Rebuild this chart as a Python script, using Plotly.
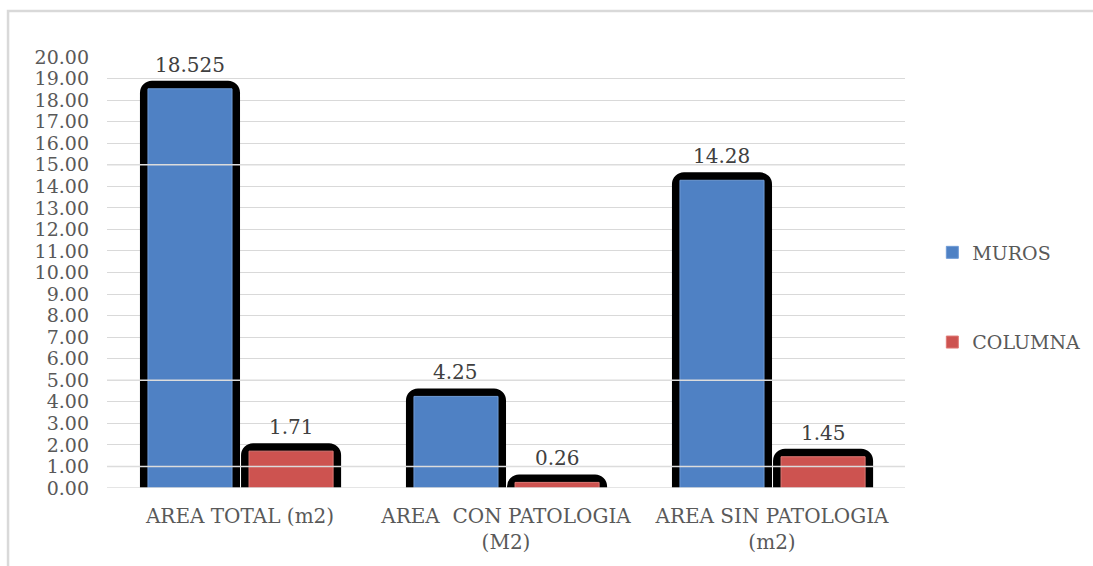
import plotly.graph_objects as go

categories = ["AREA TOTAL (m2)", "AREA&nbsp; CON PATOLOGIA<br>(M2)", "AREA SIN PATOLOGIA<br>(m2)"]
muros = [18.525, 4.25, 14.28]
columna = [1.71, 0.26, 1.45]
muros_labels = ["18.525", "4.25", "14.28"]
columna_labels = ["1.71", "0.26", "1.45"]
y_ticks = [i for i in range(0, 21)]
y_tick_labels = [f"{v:.2f}" for v in y_ticks]

FONT = "DejaVu Serif"
BLUE = "#4f81c4"
RED = "#cd5350"

x_idx = list(range(len(categories)))
bar_w = 0.316
off_blue = -0.346
off_red = 0.034

fig = go.Figure()
# black frames (behind)
for vals, off in [(muros, off_blue), (columna, off_red)]:
    fig.add_trace(go.Bar(
        x=x_idx, y=vals, width=bar_w, offset=off,
        marker=dict(color="black", line=dict(color="black", width=16), cornerradius=4),
        showlegend=False, hoverinfo="skip",
    ))
# coloured fills
fig.add_trace(go.Bar(x=x_idx, y=muros, width=bar_w, offset=off_blue, name="MUROS",
                     legendgroup="m",
                     marker=dict(color=BLUE, line=dict(color="#6f9bd6", width=1))))
fig.add_trace(go.Bar(x=x_idx, y=columna, width=bar_w, offset=off_red, name="COLUMNA",
                     legendgroup="c",
                     marker=dict(color=RED, line=dict(color="#e07a76", width=1))))

annotations = []
for i in x_idx:
    annotations.append(dict(x=i + off_blue + bar_w / 2, y=muros[i], xref="x", yref="y",
                            text=muros_labels[i], showarrow=False, yanchor="bottom",
                            yshift=10, font=dict(family=FONT, size=20, color="#404040")))
    annotations.append(dict(x=i + off_red + bar_w / 2, y=columna[i], xref="x", yref="y",
                            text=columna_labels[i], showarrow=False, yanchor="bottom",
                            yshift=10, font=dict(family=FONT, size=20, color="#404040")))

shapes = [dict(type="rect", xref="paper", yref="paper", x0=-0.124, x1=1.5, y0=-0.5, y1=1.107,
               line=dict(color="#d9d9d9", width=2.5), fillcolor="rgba(0,0,0,0)", layer="below")]
for yl in [0, 1, 5, 15]:
    shapes.append(dict(type="line", xref="paper", yref="y", x0=0, x1=1, y0=yl, y1=yl,
                       line=dict(color="#dcdcdc", width=1.5), layer="above"))

fig.update_layout(
    width=1093, height=566,
    margin=dict(l=107, r=188, t=57, b=78),
    paper_bgcolor="white", plot_bgcolor="white",
    barmode="overlay",
    font=dict(family=FONT, size=20, color="#595959"),
    xaxis=dict(tickmode="array", tickvals=x_idx, ticktext=categories, range=[-0.5, 2.5],
               showgrid=False, zeroline=False, showline=False, ticks="",
               ticklabelstandoff=14,
               tickfont=dict(family=FONT, size=20, color="#595959")),
    yaxis=dict(range=[0, 20], tickmode="array", tickvals=y_ticks, ticktext=y_tick_labels,
               showgrid=True, gridcolor="#d9d9d9", gridwidth=1.3, zeroline=False,
               showline=False, ticks="", ticklabelstandoff=17,
               tickfont=dict(family=FONT, size=19, color="#595959")),
    legend=dict(xref="container", yref="container", x=0.853, xanchor="left",
                y=(566 - 297.5) / 566, yanchor="middle", traceorder="grouped",
                tracegroupgap=62, font=dict(family=FONT, size=19, color="#595959"),
                bgcolor="rgba(0,0,0,0)", itemwidth=30, borderwidth=0),
    annotations=annotations,
    shapes=shapes,
)

fig.write_html("out.html")
